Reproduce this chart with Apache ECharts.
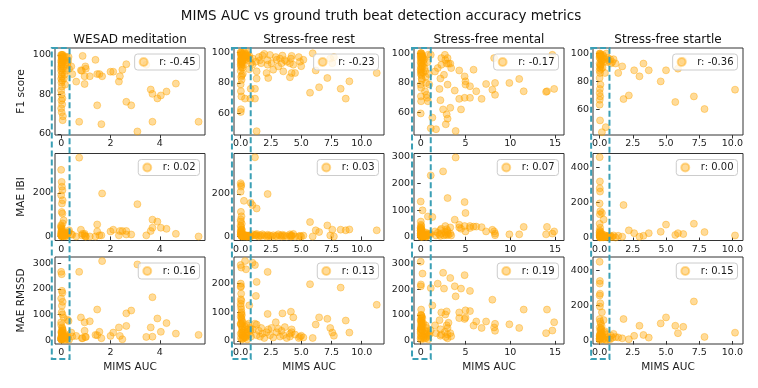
<!DOCTYPE html>
<html>
<head>
<meta charset="utf-8">
<script src="https://cdn.jsdelivr.net/npm/echarts@6/dist/echarts.min.js"></script>
<style>
  html, body { margin: 0; padding: 0; background: #fff; }
  #chart { width: 758px; height: 388px; }
</style>
</head>
<body>
<div id="chart"></div>
<script>
// 标题与标签
const suptitle = 'MIMS AUC vs ground truth beat detection accuracy metrics';
const colTitles = ['WESAD meditation', 'Stress-free rest', 'Stress-free mental', 'Stress-free startle'];
const rowNames = ['F1 score', 'MAE IBI', 'MAE RMSSD'];
const rValues = [
    ['-0.45', '-0.23', '-0.17', '-0.36'],
    ['0.02', '0.03', '0.07', '0.00'],
    ['0.16', '0.13', '0.19', '0.15']
];

// WESAD meditation
const wesadX = [0.00,0.01,0.02,0.00,0.03,0.01,0.05,0.02,0.00,0.04, 0.06,0.01,0.03,0.00,0.02,0.08,0.05,0.01,0.10,0.03,
    0.00,0.02,0.04,0.07,0.12,0.01,0.15,0.03,0.06,0.00, 0.18,0.02,0.09,0.22,0.05,0.25,0.01,0.28,0.14,0.32,
    0.04,0.20,0.00,0.11,0.30,0.02,0.16,0.07,0.26,0.06,
    0.41,0.45,0.61,0.73,0.80,0.84,0.87,0.95,0.95,0.98, 1.00,1.16,1.39,1.46,1.46,1.55,1.63,1.66,2.00,2.11,
    2.34,2.38,2.48,2.64,2.64,2.84,3.09,3.45,3.63,3.70, 3.70,3.90,4.04,4.27,4.65,5.57];
const wesadF1 = [100,99,98,97,100,96,99,95,94,98, 97,93,100,92,96,99,91,90,98,89,
    88,95,87,100,97,86,99,84,93,82, 96,80,94,99,78,95,77,97,90,93,
    75,92,73,88,99,71,85,69,96,67,
    94.2,90.3,86.5,66.2,92.2,92,99.5,89.2,85.3,94.2, 93,89.2,97.5,90.3,74.5,90.3,65,89.2,91.5,91.5,
    86.5,89.2,92.5,95.3,76.3,74.5,61.3,95,82.5,80.3, 66.2,78,79.5,81.5,85.5,66.2];
const wesadIbi = [305,5,250,10,228,3,212,15,189,8, 166,2,151,20,112,6,105,12,74,0,
    51,4,35,18,7,25,1,30,9,40, 3,14,6,2,22,11,4,16,8,28,
    5,12,45,3,20,7,10,2,15,60,
    10,8,0,361,31,5,12,12,5,0, 0,0,0,55,23,5,5,197,23,31,
    5,25,25,9,25,9,148,5,25,77, 40,68,40,35,12,0];
const wesadRmssd = [267,4,258,12,193,2,185,20,163,6, 150,30,135,8,109,15,101,3,88,25,
    70,10,50,5,18,35,1,22,40,7, 14,28,9,3,45,16,6,11,20,2,
    32,8,60,13,75,5,24,10,80,38,
    30,15,17,267,89,8,8,70,37,13, 13,74,21,120,20,33,8,309,17,30,
    50,17,4,105,56,116,296,13,50,168, 14,85,33,67,26,21];

// Stress-free rest
const restX = [0.00,0.02,0.05,0.01,0.08,0.03,0.10,0.00,0.04,0.12, 0.06,0.15,0.02,0.20,0.07,0.25,0.01,0.30,0.09,0.35,
    0.03,0.40,0.11,0.45,0.05,0.50,0.14,0.55,0.00,0.60, 0.18,0.65,0.04,0.70,0.22,0.75,0.08,0.80,0.13,0.85,
    0.02,0.36,0.44,0.27,0.16,0.06,0.71,0.83,0.33,0.03, 0.01,0.58,0.10,0.48,0.00,
    0.97,1.00,1.18,1.18,1.26,1.32,1.32,1.32,1.50,1.60, 1.70,1.80,1.95,2.14,2.23,2.23,2.28,2.42,2.55,2.69,
    2.90,2.97,3.11,3.25,3.38,3.45,3.52,3.65,3.80,4.07, 4.07,4.15,4.21,4.21,4.35,4.49,4.80,4.90,5.00,5.18,
    5.73,5.95,6.20,6.48,7.16,7.40,7.57,7.70,8.26,8.68, 8.98,11.24];
const restF1 = [100,99,98,100,97,96,99,95,94,100, 98,97,93,99,96,98,92,100,95,97,
    91,99,94,98,90,96,93,99,88,97, 86,95,84,98,92,96,82,69.6,94,93,
    74.5,69.6,97,95,90,71,89,76.1,97,62.6, 60.8,100,85,98,79,
    92,96,69.6,76.1,94,48.1,87.6,82.8,97,95, 93,98,99.1,86.5,95,92,83.2,98.4,93,88.7,
    97,95.2,90.8,96,93,98,87.6,95,94,93, 83.7,96,97.8,86.5,92,86.5,97,94,91,95.2,
    73.5,99.5,88.2,77.1,83.2,96,93,97,76.1,69.6, 81,86.5];
const restIbi = [251,5,243,10,0,235,3,211,8,2, 15,6,116,1,95,4,80,0,60,3,
    45,7,30,2,20,0,12,1,50,3, 10,2,30,0,4,6,8,1,3,0,
    20,2,0,168,7,35,1,159,3,12, 70,0,4,2,25,
    148,10,373,5,8,132,12,3,0,6, 2,10,4,0,200,8,2,5,0,6,
    3,0,10,4,0,8,2,5,0,3, 10,0,6,2,12,0,0,3,0,4,
    68,0,29,21,52,5,32,0,32,29, 33,29];
const restRmssd = [265,10,256,200,30,191,5,188,165,20, 140,45,120,8,100,35,85,15,70,50,
    60,12,40,25,110,55,30,5,130,40, 18,60,95,22,10,45,75,35,50,15,
    145,279,250,28,65,80,124,40,12,55, 25,30,90,18,60,
    273,40,265,60,157,206,57,20,35,15, 45,25,10,30,241,94,40,20,45,12,
    65,30,42,15,35,96,20,48,10,25, 15,102,30,40,82,22,10,14,18,12,
    198,10,57,82,77,45,29,18,186,71, 29,126];

// Stress-free mental
const mentalX = [0.00,0.02,0.20,0.01,0.05,0.03,0.08,0.00,0.10,0.04, 0.12,0.02,0.15,0.06,0.00,0.25,0.03,0.30,0.07,0.01,
    0.35,0.09,0.40,0.00,0.45,0.05,0.50,0.02,0.55,0.04, 0.48,0.00,0.60,0.13,0.70,0.80,0.65,0.90,0.18,0.75,
    0.00,0.22,0.85,0.11,0.95,0.06,0.28,
    1.12,1.12,1.30,1.60,1.71,1.90,2.10,2.20,2.20,2.30, 2.30,2.50,2.60,2.70,2.75,2.80,2.90,2.90,3.00,3.00,
    3.00,3.10,3.30,3.30,3.40,3.80,3.90,4.30,4.30,4.50, 4.90,4.90,5.00,5.00,5.50,5.50,5.90,6.20,6.80,7.30,
    8.00,8.20,8.30,8.30,9.90,11.00,11.50,14.00,14.10,14.70, 14.90];
const mentalF1 = [100,99,98,97,100,96,95,94,99,93, 92,91,98,90,89,97,88,95,87,86,
    93,85,96,78.9,90,76.7,88,71,84,67.7, 74.4,59.5,80,82,70,67.7,72,86,97,94,
    98,91,99,83,79,100,87,
    98.9,49.5,56.7,87.7,48.9,90,76,68.4,83,92.2, 96.7,62.2,85.5,98.9,95.5,52.2,58.9,93,96.7,56,
    78.9,93,63.3,93,90,74.9,47.7,69.3,88.4,62.2, 84.4,70,81.1,78.9,70,77.8,88.9,74.4,69.3,79.3,
    75.5,96.7,80,72,80,82.7,74.4,74,74.4,98.9, 76];
const mentalIbi = [132,5,99,57,10,45,2,32,15,0, 25,8,3,20,12,6,28,1,18,4,
    9,0,14,22,5,30,2,11,16,7, 3,24,0,10,6,76,2,12,4,8,
    35,1,5,18,9,40,3,
    230,10,74,20,5,15,8,25,3,30, 12,245,5,18,40,10,28,6,145,15,
    22,8,12,35,5,64,297,45,35,30, 130,40,89,20,33,40,38,38,36,20,
    26,20,6,12,9,9,37,9,37,12, 20];
const mentalRmssd = [306,218,260,211,121,100,90,80,70,60, 95,50,40,85,30,20,75,10,65,45,
    15,55,25,35,8,100,40,20,60,5, 28,45,12,70,30,18,50,22,88,35,
    10,58,6,42,25,15,68,
    204,40,137,60,30,221,80,45,20,110, 25,263,202,35,102,15,114,60,50,25,
    10,70,243,30,18,211,172,110,88,202, 254,85,118,90,193,115,59,75,50,75,
    159,52,39,66,64,50,121,30,121,40, 72];

// Stress-free startle
const startleX = [0.00,0.02,0.01,0.03,0.00,0.05,0.17,0.02,0.30,0.00, 0.04,0.08,0.01,0.10,0.03,0.00,0.06,0.02,0.00,0.04,
    0.01,0.00,0.03,0.17,0.46,0.40,0.60,0.70,0.85,0.95, 1.05,1.20,0.12,0.20,0.25,0.35,0.50,0.15,0.07,0.28,
    0.55,0.09,0.00,0.22,0.80,
    1.4,1.7,1.8,2.2,2.6,3.0,3.3,3.7,4.6,5.0, 5.7,5.9,6.3,7.1,7.9,10.2];
const startleF1 = [100,99,98,100,97,96,95,99,94,93, 92,91,90,89,86.2,82.6,77.9,74.8,71.9,69.5,
    67.1,63.6,52.4,44,47.6,86.2,97,95,93,94, 96,93,98,97,99,96,100,95,92,98,
    94,99,88,90,96,
    86.2,90.9,67.6,70.2,88.1,83.8,92.9,88.1,80.2,88.1, 65.5,89.3,95,69.5,60.5,74.3];
const startleIbi = [460,321,282,263,195,151,141,133,103,79, 56,20,10,5,0,15,8,2,25,12,
    4,30,6,1,10,3,0,8,2,5, 12,0,18,7,2,14,4,22,35,1,
    9,6,40,3,11,
    10,5,186,41,25,5,10,25,33,74, 15,25,20,79,31,12];
const startleRmssd = [447,339,324,267,257,213,162,194,118,124, 110,99,76,50,40,30,20,10,5,60,
    25,15,35,45,8,55,20,12,30,18, 40,22,65,28,10,48,5,85,32,15,
    38,70,12,25,10,
    20,15,124,10,29,86,34,19,99,133, 86,44,80,223,23,47];

// 刻度
const xTicks = [[0, 2, 4], [0, 2.5, 5, 7.5, 10], [0, 5, 10, 15], [0, 2.5, 5, 7.5, 10]];
const xDecimals = [0, 1, 0, 1];
const yTicks = [
    [[60, 80, 100], [60, 80, 100], [60, 80, 100], [60, 80, 100]],
    [[0, 200], [0, 200], [0, 100, 200, 300], [0, 200, 400]],
    [[0, 100, 200, 300], [0, 100, 200], [0, 100, 200, 300], [0, 200, 400]]
];
const xRanges = [[-0.25, 5.83], [-0.55, 11.84], [-0.75, 16.0], [-0.5, 10.8]];
const yRanges = [
    [[59.5, 103.5], [45.6, 103], [45, 103.5], [42, 104]],
    [[-18.5, 380], [-19, 391], [-14, 312], [-17, 481]],
    [[-14.6, 325], [-11, 293], [-12, 324], [-17, 474]]
];
// 虚线框 (x 数据范围)
const boxRanges = [[-0.38, 0.34], [-0.72, 0.83], [-0.97, 1.12], [-0.64, 0.74]];

const columnsX = [wesadX, restX, mentalX, startleX];
const rowsY = [
    [wesadF1, restF1, mentalF1, startleF1],
    [wesadIbi, restIbi, mentalIbi, startleIbi],
    [wesadRmssd, restRmssd, mentalRmssd, startleRmssd]
];

const FONT = 'DejaVu Sans';
const W = 758;
const colLeft = [55, 234, 414, 593];
const colWidth = 150;
const rowTop = [48, 153.5, 257];
const rowHeight = 87;
const pointColor = 'rgba(255,165,0,0.5)';

const chart = echarts.init(document.getElementById('chart'));

const grids = [], xAxes = [], yAxes = [], seriesList = [], legends = [];
rowsY.forEach(function(rowData, r) {
    rowData.forEach(function(ys, c) {
        const idx = r * 4 + c;
        const name = 'r: ' + rValues[r][c];
        grids.push({
            left: colLeft[c], top: rowTop[r], width: colWidth, height: rowHeight,
            show: true, borderColor: '#333', borderWidth: 1
        });
        xAxes.push({
            gridIndex: idx, type: 'value',
            min: xRanges[c][0], max: xRanges[c][1],
            axisLine: {show: false},
            splitLine: {show: false},
            axisTick: {show: true, length: 3.5, customValues: xTicks[c], lineStyle: {color: '#333'}},
            axisLabel: {
                customValues: xTicks[c], margin: 4, fontSize: 9.5, color: '#1a1a1a', fontFamily: FONT,
                formatter: function(v) { return v.toFixed(xDecimals[c]); }
            },
            name: r === 2 ? 'MIMS AUC' : '',
            nameLocation: 'middle', nameGap: 18,
            nameTextStyle: {fontSize: 10.5, color: '#1a1a1a', fontFamily: FONT}
        });
        yAxes.push({
            gridIndex: idx, type: 'value',
            min: yRanges[r][c][0], max: yRanges[r][c][1],
            axisLine: {show: false},
            splitLine: {show: false},
            axisTick: {show: true, length: 3.5, customValues: yTicks[r][c], lineStyle: {color: '#333'}},
            axisLabel: {customValues: yTicks[r][c], margin: 4, fontSize: 9.5, color: '#1a1a1a', fontFamily: FONT},
            name: c === 0 ? rowNames[r] : '',
            nameLocation: 'middle', nameGap: 28,
            nameTextStyle: {fontSize: 10.5, color: '#1a1a1a', fontFamily: FONT}
        });
        seriesList.push({
            name: name, type: 'scatter',
            xAxisIndex: idx, yAxisIndex: idx,
            data: columnsX[c].map(function(x, i) { return [x, ys[i]]; }),
            symbolSize: 7,
            itemStyle: {color: pointColor, borderColor: pointColor, borderWidth: 1},
            emphasis: {disabled: true},
            silent: true
        });
        legends.push({
            data: [name],
            right: W - (colLeft[c] + colWidth) + 5.5,
            top: rowTop[r] + 6,
            icon: 'circle', itemWidth: 21, itemHeight: 8,
            padding: [3, 4, 3, 4],
            backgroundColor: 'rgba(255,255,255,0.8)',
            borderColor: '#ccc', borderWidth: 1, borderRadius: 3,
            selectedMode: false,
            textStyle: {fontSize: 10, color: '#1a1a1a', fontFamily: FONT}
        });
    });
});

const titles = [{
    text: suptitle, left: 381, top: 9, textAlign: 'center', padding: 0,
    textStyle: {fontSize: 13.5, fontWeight: 'normal', color: '#111', fontFamily: FONT}
}].concat(colTitles.map(function(t, c) {
    return {
        text: t, left: colLeft[c] + colWidth / 2, top: 34, textAlign: 'center', padding: 0,
        textStyle: {fontSize: 12, fontWeight: 'normal', color: '#111', fontFamily: FONT}
    };
}));

chart.setOption({
    animation: false,
    backgroundColor: '#fff',
    title: titles,
    legend: legends,
    grid: grids,
    xAxis: xAxes,
    yAxis: yAxes,
    series: seriesList
});

// 虚线框，用列的 x 轴换算像素位置
const boxTop = 48, boxBottom = 359;
chart.setOption({
    graphic: boxRanges.map(function(b, c) {
        const x0 = chart.convertToPixel({xAxisIndex: c}, b[0]);
        const x1 = chart.convertToPixel({xAxisIndex: c}, b[1]);
        return {
            type: 'rect', z: 100, silent: true,
            shape: {x: x0, y: boxTop, width: x1 - x0, height: boxBottom - boxTop},
            style: {fill: 'none', stroke: '#3a9fb5', lineWidth: 2, lineDash: [6, 3]}
        };
    })
});

window.addEventListener('resize', function() {
    chart.resize();
});
</script>
</body>
</html>
